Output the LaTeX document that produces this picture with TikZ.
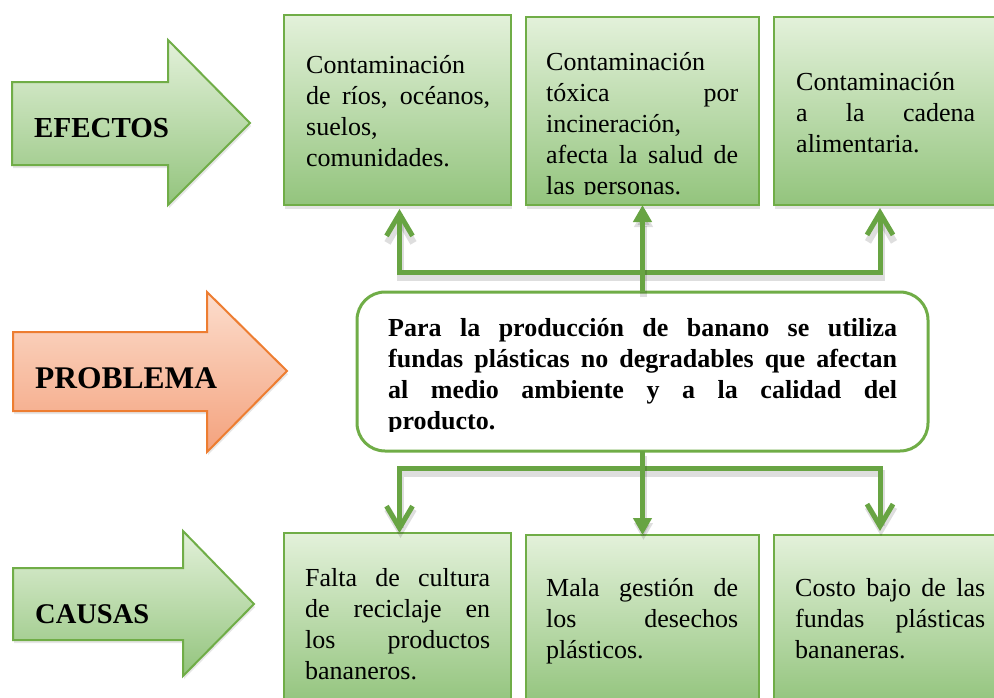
\documentclass[tikz,border=0pt]{standalone}
\usepackage{fontspec}
\setmainfont{Liberation Serif}
\usetikzlibrary{arrows.meta}
\usetikzlibrary{shadows}

\definecolor{grnline}{HTML}{70AD47}
\definecolor{grntop}{HTML}{E3F1DA}
\definecolor{grnbot}{HTML}{93C47D}
\definecolor{orgline}{HTML}{ED7D31}
\definecolor{orgtop}{HTML}{FCDDCD}
\definecolor{orgbot}{HTML}{F4A27D}
\definecolor{lnk}{HTML}{68A443}

\newcommand{\jline}[1]{\leavevmode\strut\hbox to\hsize{\spaceskip=.25em plus 1fil\relax #1}}

\tikzset{
	gbox/.style={draw=grnline, line width=2.5pt, top color=grntop, bottom color=grnbot,
		anchor=north west, inner sep=0pt, outer sep=0pt,
		drop shadow={opacity=0.22, shadow xshift=1pt, shadow yshift=-4pt}},
	probbox/.style={draw=grnline, line width=3pt, fill=white, rounded corners=28pt,
		anchor=north west, inner sep=0pt, outer sep=0pt,
		minimum width=571pt, minimum height=159pt},
	tagarrow/.style={draw=#1line, line width=2pt, top color=#1top, bottom color=#1bot,
		drop shadow={opacity=0.2, shadow xshift=1pt, shadow yshift=-3pt}},
	tag/.style={anchor=base west, inner sep=0pt, font=\fontsize{#1}{#1}\selectfont\bfseries},
	txt/.style={anchor=north west, inner sep=0pt, align=left, font=\fontsize{26}{31}\selectfont},
	link/.style={draw=lnk, line width=5pt,
		preaction={draw=black, opacity=0.13, line width=7pt, transform canvas={xshift=1pt, yshift=-5pt}}},
	sidearrow/.style={link, -{Straight Barb[length=22pt,width=26pt]}},
	midarrow/.style={link, -{Triangle[length=17pt,width=18pt]}}
}

\begin{document}
\begin{tikzpicture}[x=1pt, y=-1pt]
	\useasboundingbox (0,0) rectangle (994,697);
	%
	\draw[tagarrow=grn] (12,82) -- (168,82) -- (168,40) -- (250,123) -- (168,205) -- (168,165) -- (12,165) -- cycle;
	\node[tag=29] (efectos) at (34,137) {EFECTOS};
	\draw[tagarrow=org] (13,332) -- (207,332) -- (207,292) -- (287,371) -- (207,452) -- (207,411) -- (13,411) -- cycle;
	\node[tag=31.5] (problema) at (35,388) {PROBLEMA};
	\draw[tagarrow=grn] (13,568) -- (183,568) -- (183,531) -- (254,604) -- (183,676) -- (183,640) -- (13,640) -- cycle;
	\node[tag=28.5] (causas) at (35,623) {CAUSAS};
	%
	\node[gbox, minimum width=227pt, minimum height=190pt] (e1) at (284,15) {};
	\node[gbox, minimum width=233pt, minimum height=188pt] (e2) at (526,17) {};
	\node[gbox, minimum width=224pt, minimum height=188pt] (e3) at (774,17) {};
	\node[gbox, minimum width=227pt, minimum height=172pt] (c1) at (284,533) {};
	\node[gbox, minimum width=233pt, minimum height=170pt] (c2) at (526,535) {};
	\node[gbox, minimum width=224pt, minimum height=170pt] (c3) at (774,535) {};
	%
	\coordinate (upfork) at (642.5,272);
	\coordinate (downfork) at (642.5,468);
	\draw[sidearrow, shorten >=4pt] (upfork) -| ([xshift=2pt]e1.south);
	\draw[sidearrow, shorten >=3pt] (upfork) -| ([xshift=-6pt]e3.south);
	\draw[sidearrow] (downfork) -| ([xshift=2pt]c1.north);
	\draw[sidearrow, shorten >=4pt] (downfork) -| ([xshift=-6pt]c3.north);
	\node[probbox] (prob) at (357,292) {};
	\draw[midarrow] (prob.north) -- (e2.south);
	\draw[midarrow] (prob.south) -- (c2.north);
	%
	\node[txt, text width=184pt] (e1t) at (306,52) {\strut Contaminación\\ \jline{de ríos, océanos,}\\ suelos,\\ comunidades.};
	\begin{scope}
		\clip (526,17) rectangle (759,194);
		\node[txt, text width=192pt] (e2t) at (546,49) {\strut Contaminación\\ \jline{tóxica por}\\ incineración,\\ \jline{afecta la salud de}\\ las personas.};
	\end{scope}
	\node[txt, text width=179pt] (e3t) at (796,69) {\strut Contaminación\\ \jline{a la cadena}\\ alimentaria.};
	\begin{scope}
		\clip (357,292) rectangle (928,431);
		\node[txt, text width=509pt, font=\fontsize{26}{31}\selectfont\bfseries] (probt) at (388,315)
			{\jline{Para la producción de banano se utiliza}\\ \jline{fundas plásticas no degradables que afectan}\\ \jline{al medio ambiente y a la calidad del}\\ producto.};
	\end{scope}
	\node[txt, text width=185pt] (c1t) at (305,565) {\jline{Falta de cultura}\\ \jline{de reciclaje en}\\ \jline{los productos}\\ bananeros.};
	\node[txt, text width=192pt] (c2t) at (546,575) {\jline{Mala gestión de}\\ \jline{los desechos}\\ plásticos.};
	\node[txt, text width=190pt] (c3t) at (795,575) {\jline{Costo bajo de las}\\ \jline{fundas plásticas}\\ bananeras.};
\end{tikzpicture}
\end{document}
